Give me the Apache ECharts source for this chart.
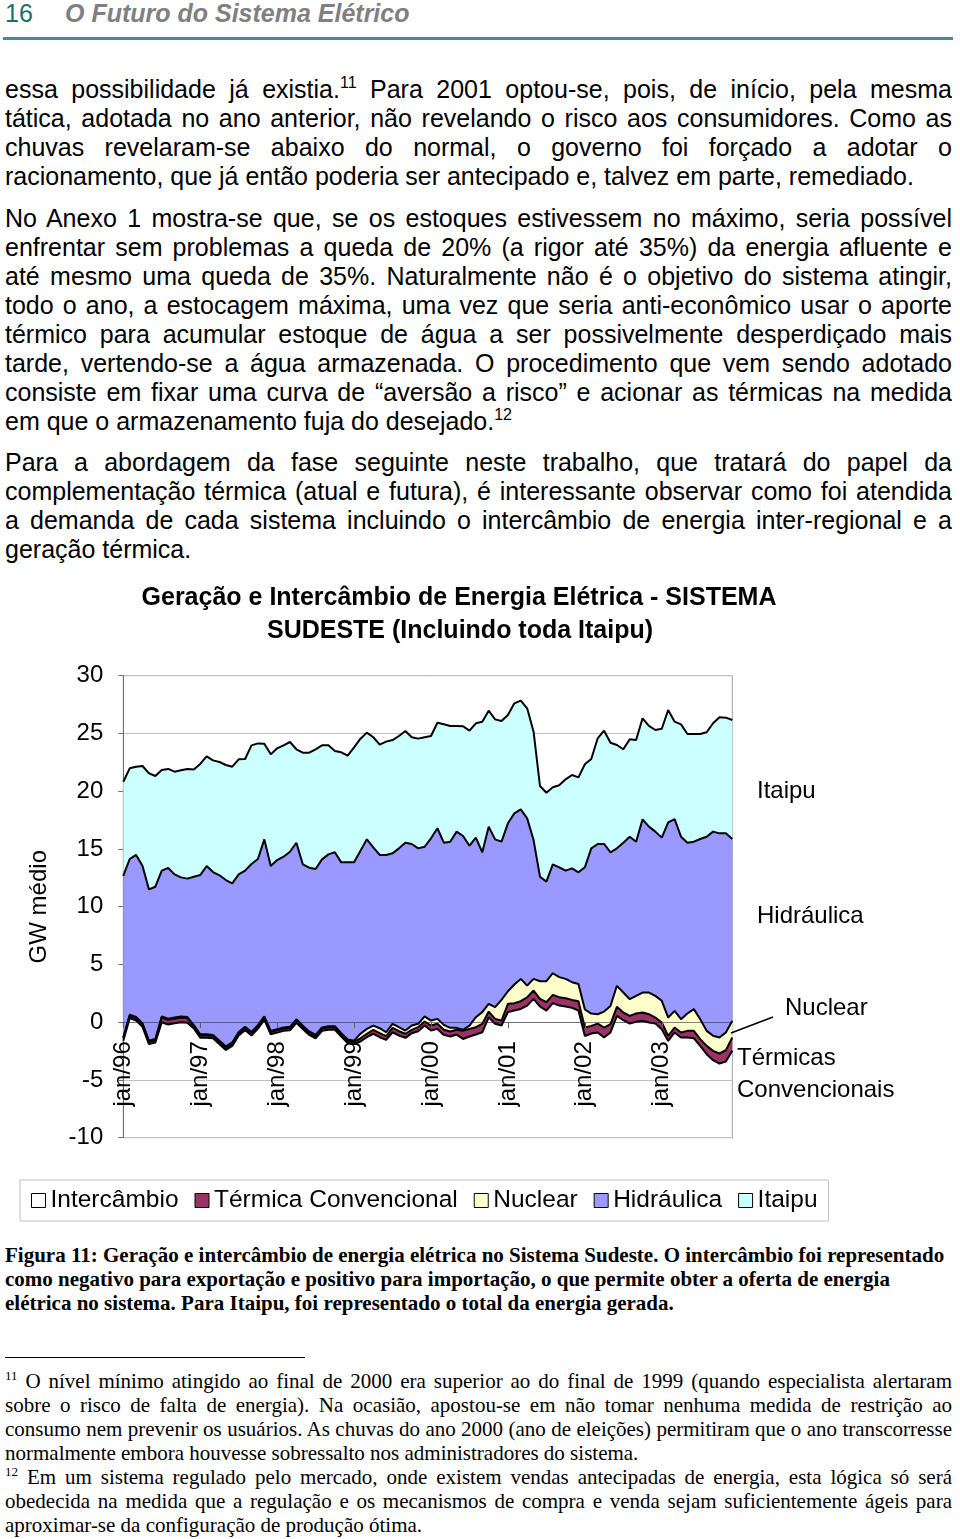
<!DOCTYPE html>
<html><head><meta charset="utf-8">
<script src="https://cdn.jsdelivr.net/npm/echarts@6/dist/echarts.min.js"></script>
<style>
html,body{margin:0;padding:0;background:#fff;}
#page{position:relative;width:960px;height:1539px;overflow:hidden;background:#fff;}
.t{position:absolute;left:5px;width:947px;font-family:"Liberation Sans",Arial,sans-serif;font-size:25px;line-height:29px;height:29px;overflow:hidden;color:#000;text-align:justify;text-align-last:justify;}
.t.last{text-align-last:left;}
.sup{font-size:16px;position:relative;top:-10px;}
.cap{position:absolute;left:5px;width:955px;font-family:"Liberation Serif","Times New Roman",serif;font-weight:bold;font-size:21px;line-height:24px;height:24px;white-space:nowrap;color:#000;}
.fn{position:absolute;left:5px;width:947px;font-family:"Liberation Serif","Times New Roman",serif;font-size:21px;line-height:24px;height:24px;overflow:hidden;color:#000;text-align:justify;text-align-last:justify;}
.fn.last{text-align-last:left;}
.fsup{font-size:13px;position:relative;top:-8px;}
#hdr16{position:absolute;left:5px;top:-1px;font-family:"Liberation Sans",Arial,sans-serif;font-size:25px;line-height:29px;color:#17706f;}
#hdrT{position:absolute;left:65px;top:-1px;font-family:"Liberation Sans",Arial,sans-serif;font-size:25px;line-height:29px;color:#808080;font-weight:bold;font-style:italic;}
#rule{position:absolute;left:3px;top:37px;width:950px;height:3px;background:#3e8f98;}
#sep{position:absolute;left:5px;top:1357px;width:300px;height:1px;background:#000;}
#chart{position:absolute;left:0;top:575px;width:960px;height:660px;}
</style></head>
<body><div id="page">
<div id="hdr16">16</div>
<div id="hdrT">O Futuro do Sistema Elétrico</div>
<div id="rule"></div>

<div class="t" style="top:75px">essa possibilidade já existia.<span class="sup">11</span> Para 2001 optou-se, pois, de início, pela mesma</div>
<div class="t" style="top:104px">tática, adotada no ano anterior, não revelando o risco aos consumidores. Como as</div>
<div class="t" style="top:133px">chuvas revelaram-se abaixo do normal, o governo foi forçado a adotar o</div>
<div class="t last" style="top:162px">racionamento, que já então poderia ser antecipado e, talvez em parte, remediado.</div>

<div class="t" style="top:204px">No Anexo 1 mostra-se que, se os estoques estivessem no máximo, seria possível</div>
<div class="t" style="top:233px">enfrentar sem problemas a queda de 20% (a rigor até 35%) da energia afluente e</div>
<div class="t" style="top:262px">até mesmo uma queda de 35%. Naturalmente não é o objetivo do sistema atingir,</div>
<div class="t" style="top:291px">todo o ano, a estocagem máxima, uma vez que seria anti-econômico usar o aporte</div>
<div class="t" style="top:320px">térmico para acumular estoque de água a ser possivelmente desperdiçado mais</div>
<div class="t" style="top:349px">tarde, vertendo-se a água armazenada. O procedimento que vem sendo adotado</div>
<div class="t" style="top:378px">consiste em fixar uma curva de “aversão a risco” e acionar as térmicas na medida</div>
<div class="t last" style="top:407px">em que o armazenamento fuja do desejado.<span class="sup">12</span></div>

<div class="t" style="top:448px">Para a abordagem da fase seguinte neste trabalho, que tratará do papel da</div>
<div class="t" style="top:477px">complementação térmica (atual e futura), é interessante observar como foi atendida</div>
<div class="t" style="top:506px">a demanda de cada sistema incluindo o intercâmbio de energia inter-regional e a</div>
<div class="t last" style="top:535px">geração térmica.</div>

<div id="chart"></div>

<div class="cap" style="top:1243px">Figura 11: Geração e intercâmbio de energia elétrica no Sistema Sudeste. O intercâmbio foi representado</div>
<div class="cap" style="top:1267px">como negativo para exportação e positivo para importação, o que permite obter a oferta de energia</div>
<div class="cap" style="top:1291px">elétrica no sistema. Para Itaipu, foi representado o total da energia gerada.</div>

<div id="sep"></div>
<div class="fn" style="top:1369px"><span class="fsup">11</span> O nível mínimo atingido ao final de 2000 era superior ao do final de 1999 (quando especialista alertaram</div>
<div class="fn" style="top:1393px">sobre o risco de falta de energia). Na ocasião, apostou-se em não tomar nenhuma medida de restrição ao</div>
<div class="fn" style="top:1417px">consumo nem prevenir os usuários. As chuvas do ano 2000 (ano de eleições) permitiram que o ano transcorresse</div>
<div class="fn last" style="top:1441px">normalmente embora houvesse sobressalto nos administradores do sistema.</div>
<div class="fn" style="top:1465px"><span class="fsup">12</span> Em um sistema regulado pelo mercado, onde existem vendas antecipadas de energia, esta lógica só será</div>
<div class="fn" style="top:1489px">obedecida na medida que a regulação e os mecanismos de compra e venda sejam suficientemente ágeis para</div>
<div class="fn last" style="top:1513px">aproximar-se da configuração de produção ótima.</div>
</div>
<script>
// ---- data (GW médio, monthly jan/96 .. dez/03) ----
const months = ['jan','fev','mar','abr','mai','jun','jul','ago','set','out','nov','dez'];
const years = ['96','97','98','99','00','01','02','03'];
const seriesNames = ['Intercâmbio','Térmica Convencional','Nuclear','Hidráulica','Itaipu'];

const intercambio = [-1.6,0.35,0.15,-0.4,-1.9,-1.75,0.0,-0.2,-0.1,0.0,-0.05,-0.55,
 -1.35,-1.35,-1.4,-1.9,-2.4,-2.05,-1.15,-0.7,-1.15,-0.55,0.2,-1.05,
 -0.9,-0.75,-0.7,-0.05,-0.6,-1.1,-1.4,-0.75,-0.65,-0.65,-1.25,-1.8,
 -1.9,-1.67,-1.3,-1.0,-1.3,-1.53,-0.87,-1.15,-1.36,-0.95,-0.78,-0.29,
 -0.72,-0.58,-1.1,-1.24,-1.07,-1.45,-1.24,-1.07,-0.87,0.43,-0.14,-0.29,
 0.87,1.01,1.15,1.44,2.02,1.36,1.01,1.65,1.44,1.36,1.24,1.01,
 -1.2,-0.98,-0.89,-1.33,-0.89,0.55,0.17,-0.12,0.03,0.12,-0.03,-0.12,
 -0.61,-1.62,-0.89,-1.33,-1.33,-1.39,-2.05,-2.77,-3.29,-3.58,-3.41,-2.48];

const termica = [0.2,0.2,0.2,0.2,0.2,0.2,0.4,0.4,0.4,0.4,0.4,0.2,
 0.2,0.2,0.2,0.2,0.2,0.2,0.2,0.2,0.2,0.2,0.2,0.2,
 0.2,0.2,0.2,0.2,0.2,0.2,0.2,0.2,0.2,0.2,0.2,0.2,
 0.2,0.28,0.3,0.34,0.35,0.32,0.38,0.37,0.36,0.29,0.35,0.35,
 0.43,0.44,0.44,0.43,0.41,0.7,0.66,0.64,0.73,0.49,0.43,0.43,
 0.72,0.64,0.67,0.72,0.72,0.66,0.72,0.72,0.72,0.72,0.69,0.81,
 0.75,0.66,0.77,0.87,0.72,0.78,0.67,0.67,0.72,0.72,0.72,0.52,
 0.58,0.44,0.43,0.44,0.58,0.64,0.58,0.72,0.81,0.87,0.99,1.15];

const nuclear = [0.1,0.1,0.1,0.1,0.1,0.1,0.1,0.1,0.1,0.1,0.1,0.1,
 0.1,0.1,0.1,0.1,0.1,0.1,0.1,0.1,0.1,0.1,0.1,0.1,
 0.1,0.1,0.1,0.1,0.1,0.1,0.1,0.1,0.1,0.1,0.1,0.1,
 0.1,0.39,0.42,0.37,0.43,0.34,0.35,0.35,0.28,0.37,0.29,0.44,
 0.43,0.43,0.43,0.32,0.17,0.09,0.29,0.86,1.01,0.67,1.01,1.79,
 1.09,1.61,1.93,1.01,1.01,1.53,1.82,1.87,1.74,1.67,1.53,1.48,
 1.55,1.07,0.81,1.38,1.58,1.82,1.73,1.44,1.53,1.73,1.88,1.88,
 1.88,1.58,1.44,1.15,1.5,1.88,1.73,1.3,1.3,1.38,1.53,1.45];

const hidraulica = [13.96,13.48,14.03,13.62,13.10,13.18,12.62,13.05,12.40,12.04,11.98,12.85,
 13.79,14.57,14.10,14.32,14.41,13.77,13.65,13.52,14.55,14.38,15.33,14.27,
 14.64,14.78,15.16,15.29,13.97,14.18,14.36,14.55,14.88,15.06,14.79,15.34,
 15.44,15.85,16.41,15.43,15.00,15.35,14.76,15.48,16.26,15.72,15.19,14.69,
 15.78,16.50,15.77,16.12,16.99,16.78,15.57,15.55,13.84,15.34,14.53,13.70,
 14.54,14.82,14.68,14.48,12.02,9.05,8.62,9.43,9.51,9.37,9.86,9.68,
 12.31,14.30,14.74,14.51,13.30,11.90,12.97,14.07,13.35,14.99,14.36,14.22,
 14.13,16.90,16.61,15.80,14.79,14.50,15.60,16.81,17.68,17.68,17.24,15.74];

const itaipu = [8.16,7.85,7.64,8.66,10.05,9.59,8.72,8.58,8.89,9.27,9.50,9.27,
 9.62,9.50,9.67,9.81,9.96,10.10,9.96,9.67,10.27,10.01,8.28,9.67,
 9.67,9.64,9.50,8.09,9.66,9.95,10.37,9.87,9.44,8.77,9.53,9.24,
 9.96,9.70,9.24,9.53,9.55,9.81,9.81,9.73,9.67,9.24,9.50,9.48,
 8.86,9.14,10.25,10.02,9.15,9.50,9.96,9.90,11.31,10.04,10.39,10.45,
 9.38,9.53,9.41,9.53,9.38,7.85,7.70,6.67,7.10,7.91,8.08,8.22,
 8.92,7.74,9.15,9.81,9.49,8.95,8.09,8.43,8.80,8.75,8.72,8.80,
 9.43,9.73,8.43,9.73,9.41,9.32,9.09,9.04,9.38,10.05,10.02,10.30];

const categories = [];
years.forEach(y => months.forEach(m => categories.push(m + '/' + y)));

const FONT = '"Liberation Sans", Arial, sans-serif';
const colors = ['#ffffff','#993366','#ffffcc','#9999ff','#ccffff'];
const allData = [intercambio, termica, nuclear, hidraulica, itaipu];

const Y_MIN = -10, Y_MAX = 30, GRID_H = 462;

const series = seriesNames.map((name, k) => ({
  name: name,
  type: 'line',
  stack: 'total',
  stackStrategy: 'all',
  data: allData[k],
  symbol: 'none',
  showSymbol: false,
  color: colors[k],
  itemStyle: {color: colors[k]},
  lineStyle: {color: '#000', width: 2},
  areaStyle: {color: colors[k], opacity: 1},
  emphasis: {disabled: true},
  silent: true,
  z: 2
}));

const chart = echarts.init(document.getElementById('chart'), null, {renderer: 'canvas'});
chart.setOption({
  animation: false,
  backgroundColor: '#fff',
  textStyle: {fontFamily: FONT},
  grid: {left: 123.3, top: 100.7, width: 609, height: GRID_H, show: true, borderColor: '#a0a0a0', borderWidth: 1, containLabel: false},
  xAxis: {
    type: 'category', data: categories, boundaryGap: false, z: 5,
    position: 'bottom',
    // place the category axis on the value 0 of the y axis
    offset: -GRID_H * (0 - Y_MIN) / (Y_MAX - Y_MIN),
    axisLine: {onZero: false, lineStyle: {color: 'rgba(30,30,60,0.55)', width: 1}},
    axisTick: {show: true, interval: 11, length: 6, lineStyle: {color: '#606060'}},
    axisLabel: {interval: 11, rotate: 90, margin: 19, fontSize: 24, color: '#000', fontFamily: FONT},
    splitLine: {show: false}
  },
  yAxis: {
    type: 'value', min: Y_MIN, max: Y_MAX, interval: 5,
    name: 'GW médio', nameLocation: 'middle', nameGap: 72,
    nameTextStyle: {fontSize: 24, color: '#000', fontFamily: FONT},
    axisLine: {show: true, lineStyle: {color: '#707070', width: 1}},
    axisTick: {show: true, length: 5, lineStyle: {color: '#707070'}},
    axisLabel: {fontSize: 24, margin: 20, color: '#000', fontFamily: FONT},
    splitLine: {show: true, lineStyle: {color: '#c0c0c0', width: 1}}
  },
  legend: {
    left: 20, top: 605, orient: 'horizontal', padding: [8, 11, 8, 11], itemGap: 16,
    itemWidth: 14, itemHeight: 14, icon: 'rect', selectedMode: false,
    borderColor: '#c0c0c0', borderWidth: 1,
    textStyle: {fontSize: 24.5, color: '#000', fontFamily: FONT},
    data: seriesNames.map((n, k) => ({name: n, itemStyle: {color: colors[k], borderColor: '#000', borderWidth: 1}}))
  },
  graphic: [
    {type: 'text', x: 459, y: 23, style: {text: 'Geração e Intercâmbio de Energia Elétrica - SISTEMA', font: 'bold 25px ' + FONT, fill: '#000', align: 'center', verticalAlign: 'middle'}},
    {type: 'text', x: 460, y: 56, style: {text: 'SUDESTE (Incluindo toda Itaipu)', font: 'bold 25px ' + FONT, fill: '#000', align: 'center', verticalAlign: 'middle'}},
    {type: 'text', x: 757, y: 216, style: {text: 'Itaipu', font: '24px ' + FONT, fill: '#000', align: 'left', verticalAlign: 'middle'}},
    {type: 'text', x: 757, y: 341, style: {text: 'Hidráulica', font: '24px ' + FONT, fill: '#000', align: 'left', verticalAlign: 'middle'}},
    {type: 'text', x: 785, y: 433, style: {text: 'Nuclear', font: '24px ' + FONT, fill: '#000', align: 'left', verticalAlign: 'middle'}},
    {type: 'line', shape: {x1: 773, y1: 442, x2: 731, y2: 458}, style: {stroke: '#000', lineWidth: 1.5}, z: 10},
    {type: 'text', x: 737, y: 483, style: {text: 'Térmicas', font: '24px ' + FONT, fill: '#000', align: 'left', verticalAlign: 'middle'}},
    {type: 'text', x: 737, y: 515, style: {text: 'Convencionais', font: '24px ' + FONT, fill: '#000', align: 'left', verticalAlign: 'middle'}}
  ],
  series: series
});
</script>
</body></html>
